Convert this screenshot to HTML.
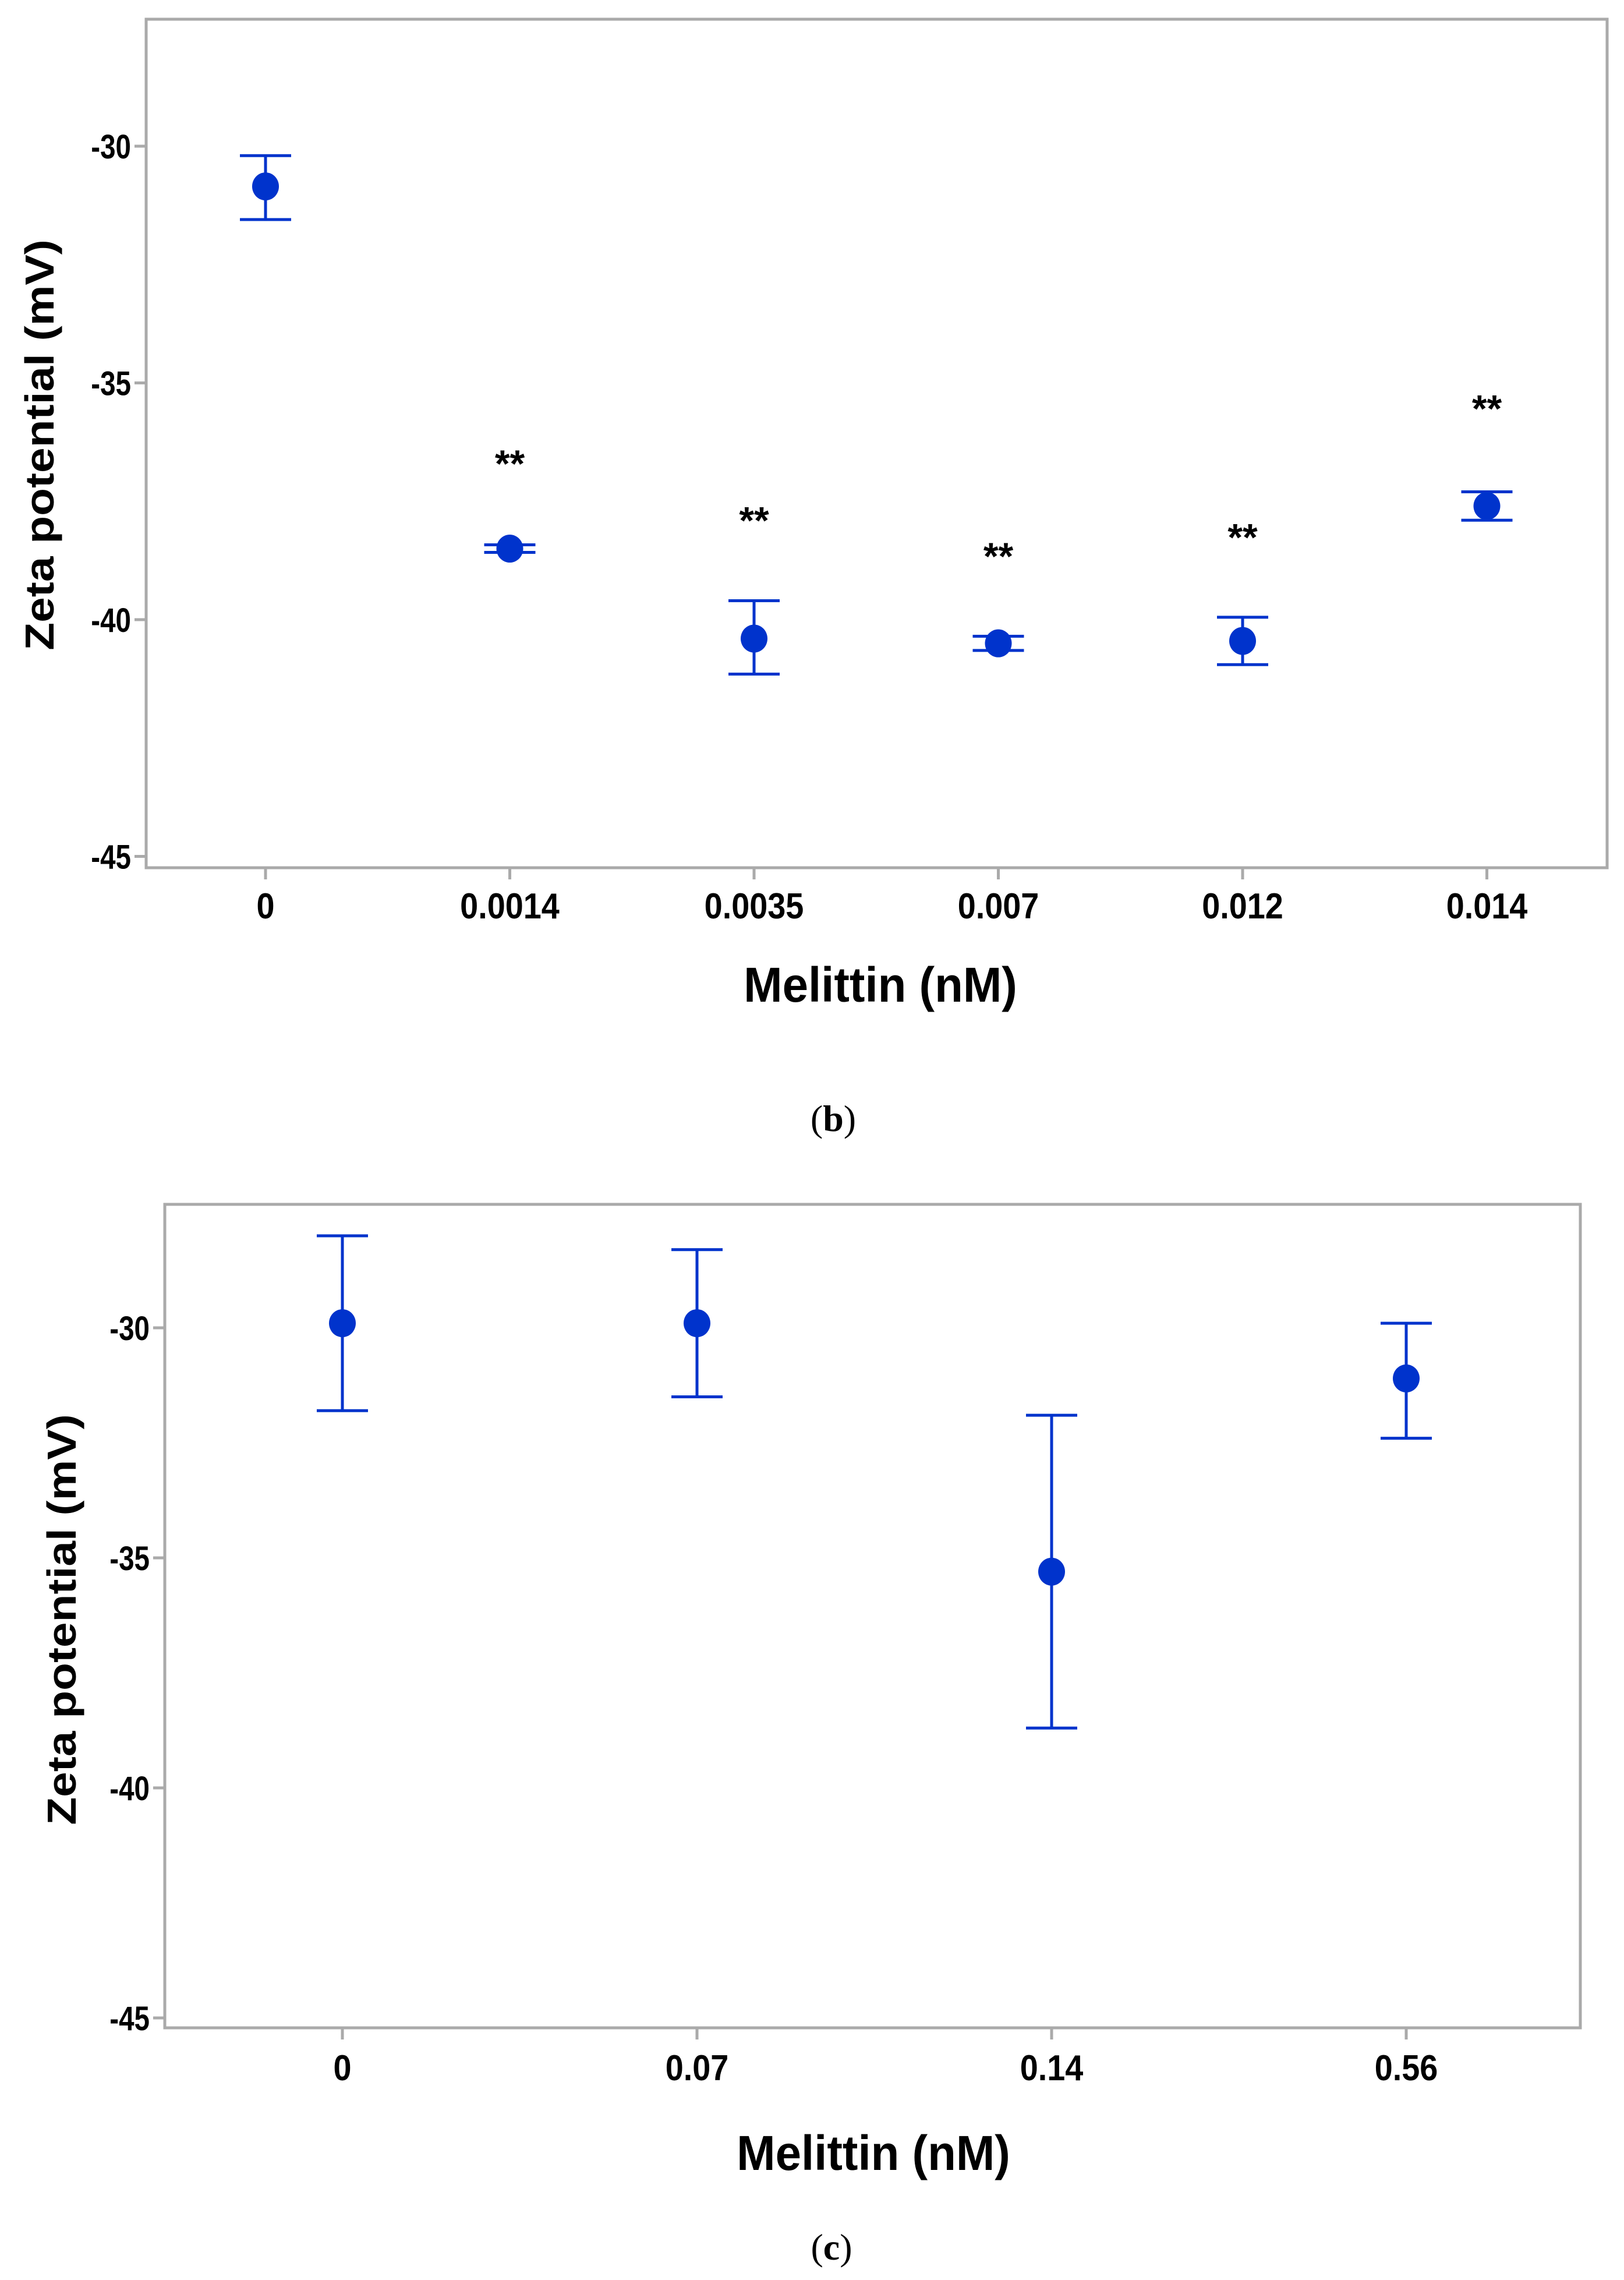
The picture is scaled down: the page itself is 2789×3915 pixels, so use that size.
<!DOCTYPE html>
<html><head><meta charset="utf-8"><style>
html,body{margin:0;padding:0;background:#fff}
svg{display:block}
text{font-family:"Liberation Sans",Arial,sans-serif}
</style></head><body>
<svg id="root" width="2789" height="3915" viewBox="0 0 2789 3915" xmlns="http://www.w3.org/2000/svg">
<g id="chartB"></g>
<text x="1431" y="1942" text-anchor="middle" font-size="64" style="font-family:'Liberation Serif',serif">(<tspan font-weight="bold">b</tspan>)</text>
<g id="chartC"></g>
<text x="1428" y="3880" text-anchor="middle" font-size="64" style="font-family:'Liberation Serif',serif">(<tspan font-weight="bold">c</tspan>)</text>
</svg>
<script>
const catsB = ["0","0.0014","0.0035","0.007","0.012","0.014"];
const meanB = [-30.85,-38.5,-40.4,-40.5,-40.45,-37.6];
const hiB = [-30.2,-38.42,-39.6,-40.35,-39.95,-37.3];
const loB = [-31.55,-38.58,-41.15,-40.65,-40.95,-37.9];
const starsB = ["","**","**","**","**","**"];
const starValB = [0,-36.64,-37.84,-38.6,-38.2,-35.48];
const catsC = ["0","0.07","0.14","0.56"];
const meanC = [-29.9,-29.9,-35.3,-31.1];
const hiC = [-28.0,-28.3,-31.9,-29.9];
const loC = [-31.8,-31.5,-38.7,-32.4];
const yTicks = [-30,-35,-40,-45];

const NS="http://www.w3.org/2000/svg";
function mk(parent,tag,attrs,txt){const e=document.createElementNS(NS,tag);for(const k in attrs)e.setAttribute(k,attrs[k]);if(txt!==undefined)e.textContent=txt;parent.appendChild(e);return e;}

function drawChart(g,cfg,cats,mean,hi,lo,stars,starVal){
  const yS=v=>cfg.y30+( -30 - v)*cfg.ppu;
  const xS=i=>cfg.x0+i*cfg.dx;
  const frame=mk(g,'rect',{x:cfg.L,y:cfg.T,width:cfg.R-cfg.L,height:cfg.B-cfg.T,fill:'none',stroke:'#aaaaaa','stroke-width':5});
  
  
  yTicks.forEach(t=>{
    const y=yS(t);
    const tk=mk(g,'line',{x1:cfg.L-20,x2:cfg.L,y1:y,y2:y,stroke:'#aaaaaa','stroke-width':5});
    
    
    const lb=mk(g,'text',{x:0,y:0,transform:`translate(${cfg.L-26},${y+21}) scale(0.82,1)`,'text-anchor':'end','font-size':58,'font-weight':'bold'},String(t));
    
    
  });
  cats.forEach((c,i)=>{
    const x=xS(i);
    const tk=mk(g,'line',{x1:x,x2:x,y1:cfg.B,y2:cfg.B+20,stroke:'#aaaaaa','stroke-width':5});
    
    
    const lb=mk(g,'text',{x:0,y:0,transform:`translate(${x},${cfg.xlY}) scale(0.9,1)`,'text-anchor':'middle','font-size':62,'font-weight':'bold'},c);
    
    
    const col='#0033cc';
    const eb=mk(g,'path',{d:`M${x-44},${yS(hi[i])}H${x+44}M${x},${yS(hi[i])}V${yS(lo[i])}M${x-44},${yS(lo[i])}H${x+44}`,stroke:col,'stroke-width':5,fill:'none'});
    
    
    const pt=mk(g,'ellipse',{cx:x,cy:yS(mean[i]),rx:23,ry:24,fill:col});
    
    
    if(stars && stars[i]){
      const st=mk(g,'text',{x:x,y:yS(starVal[i])+28,'text-anchor':'middle','font-size':66,'font-weight':'bold'},stars[i]);
      
      
    }
  });
  const xt=mk(g,'text',{x:0,y:0,transform:`translate(${cfg.xtX},${cfg.xtY}) scale(0.95,1)`,'text-anchor':'middle','font-size':84,'font-weight':'bold'},'Melittin (nM)');
  
  
  const yt=mk(g,'text',{x:0,y:0,transform:`translate(${cfg.ytX},${cfg.ytY}) rotate(-90) scale(1.12,1)`,'text-anchor':'middle','font-size':70,'font-weight':'bold'},'Zeta potential (mV)');
  
  
}

drawChart(document.getElementById('chartB'),
  {L:251,T:33,R:2760,B:1490,y30:251,ppu:81.3,x0:456,dx:419.5,xlY:1577,xtX:1512,xtY:1720,ytX:92,ytY:764},
  catsB,meanB,hiB,loB,starsB,starValB);
drawChart(document.getElementById('chartC'),
  {L:283,T:2068,R:2714,B:3482,y30:2280,ppu:79.0,x0:588,dx:609,xlY:3572,xtX:1500,xtY:3726,ytX:130,ytY:2781},
  catsC,meanC,hiC,loC,null,null);
</script>
</body></html>
